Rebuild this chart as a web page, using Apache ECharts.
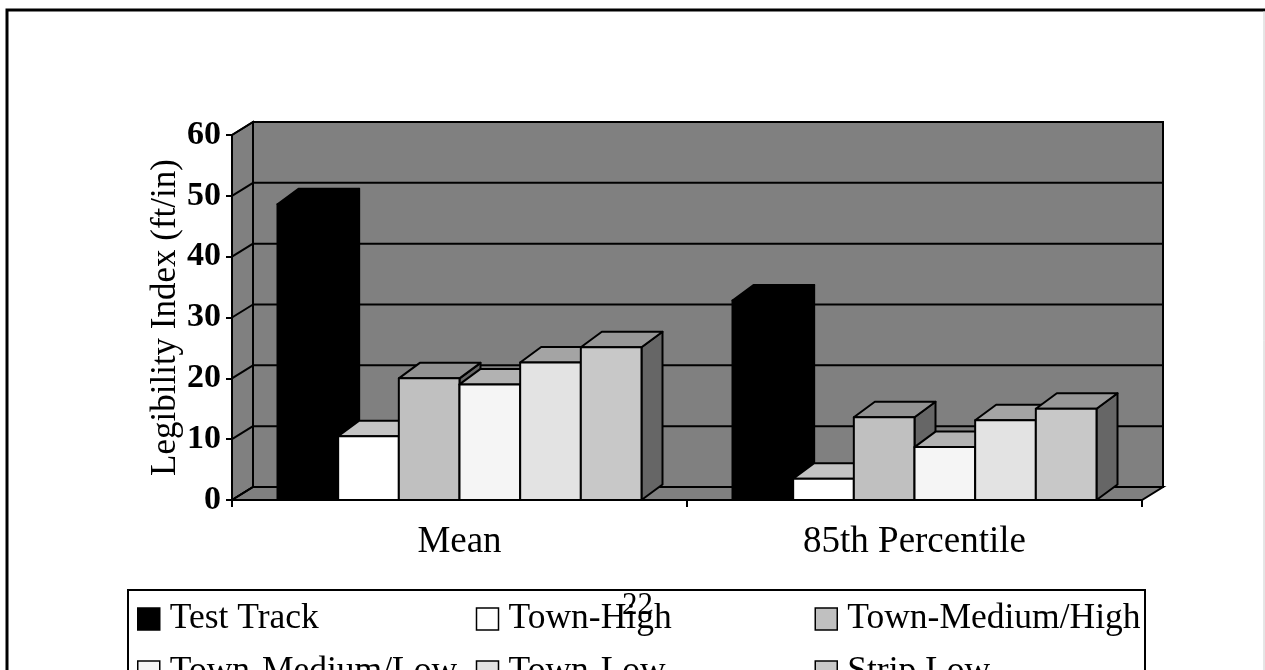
<!DOCTYPE html>
<html>
<head>
<meta charset="utf-8">
<title>Legibility Index</title>
<script src="https://cdn.jsdelivr.net/npm/echarts@6/dist/echarts.min.js"></script>
<style>
  html, body { margin: 0; padding: 0; background: #ffffff; }
  #chart { width: 1265px; height: 670px; }
</style>
</head>
<body>
<div id="chart"></div>
<script>
// Categories and series values (Legibility Index, ft/in)
const categories = ['Mean', '85th Percentile'];
const seriesNames = ['Test Track', 'Town-High', 'Town-Medium/High', 'Town-Medium/Low', 'Town-Low', 'Strip Low'];
const testTrack = [48.6, 32.8];
const townHigh = [10.5, 3.5];
const townMediumHigh = [20.0, 13.6];
const townMediumLow = [19.0, 8.7];
const townLow = [22.6, 13.1];
const stripLow = [25.1, 15.0];
const yTicks = [0, 10, 20, 30, 40, 50, 60];

const seriesValues = [testTrack, townHigh, townMediumHigh, townMediumLow, townLow, stripLow];

// Face shades for each series: front, top, side
const shades = [
  ['#000000', '#000000', '#000000'],
  ['#ffffff', '#c4c4c4', '#8c8c8c'],
  ['#c0c0c0', '#929292', '#666666'],
  ['#f5f5f5', '#b2b2b2', '#777777'],
  ['#e3e3e3', '#a4a4a4', '#6e6e6e'],
  ['#c8c8c8', '#979797', '#666666']
];

const SERIF = '"Liberation Serif", "Times New Roman", serif';
const WALL_DX = 21, WALL_DY = -13;   // depth offset of the back wall
const BAR_DX = 21, BAR_DY = -15.5;   // depth offset of each column
const GROUP_FILL = 0.8;              // share of a category band taken by its columns

// Back wall, side wall, floor and their gridlines
function renderWalls(params, api) {
  const cs = params.coordSys;
  const t = api.value(0);
  const y = api.coord([0, t])[1];
  const xl = cs.x, xr = cs.x + cs.width;
  const children = [];
  const line = { stroke: '#000', lineWidth: 2 };
  if (params.dataIndex === 0) {
    const yTop = cs.y, yBot = cs.y + cs.height;
    children.push({
      type: 'polygon',
      shape: { points: [[xl + WALL_DX, yTop + WALL_DY], [xr + WALL_DX, yTop + WALL_DY], [xr + WALL_DX, yBot + WALL_DY], [xl + WALL_DX, yBot + WALL_DY]] },
      style: { fill: '#808080', stroke: '#000', lineWidth: 2 }
    });
    children.push({
      type: 'polygon',
      shape: { points: [[xl, yTop], [xl + WALL_DX, yTop + WALL_DY], [xl + WALL_DX, yBot + WALL_DY], [xl, yBot]] },
      style: { fill: '#808080', stroke: '#000', lineWidth: 2 }
    });
    children.push({
      type: 'polygon',
      shape: { points: [[xl, yBot], [xr, yBot], [xr + WALL_DX, yBot + WALL_DY], [xl + WALL_DX, yBot + WALL_DY]] },
      style: { fill: '#808080', stroke: '#000', lineWidth: 2 }
    });
  }
  children.push({ type: 'line', shape: { x1: xl, y1: y, x2: xl + WALL_DX, y2: y + WALL_DY }, style: line });
  children.push({ type: 'line', shape: { x1: xl + WALL_DX, y1: y + WALL_DY, x2: xr + WALL_DX, y2: y + WALL_DY }, style: line });
  return { type: 'group', children: children };
}

// One column drawn as a box: side, top, then front face
function makeBarRenderer(k) {
  return function (params, api) {
    const c = api.value(0);
    const v = api.value(1);
    const base = api.coord([c, 0]);
    const top = api.coord([c, v]);
    const band = api.size([1, 0])[0];
    const w = band * GROUP_FILL / seriesNames.length;
    const x0 = base[0] - band * GROUP_FILL / 2 + k * w;
    const x1 = x0 + w;
    const ty = top[1], by = base[1];
    const [front, topC, side] = shades[k];
    const edge = { stroke: '#000', lineWidth: 2, lineJoin: 'round' };
    return {
      type: 'group',
      children: [
        {
          type: 'polygon',
          shape: { points: [[x1, ty], [x1 + BAR_DX, ty + BAR_DY], [x1 + BAR_DX, by + BAR_DY], [x1, by]] },
          style: Object.assign({ fill: side }, edge)
        },
        {
          type: 'polygon',
          shape: { points: [[x0, ty], [x0 + BAR_DX, ty + BAR_DY], [x1 + BAR_DX, ty + BAR_DY], [x1, ty]] },
          style: Object.assign({ fill: topC }, edge)
        },
        {
          type: 'rect',
          shape: { x: x0, y: ty, width: w, height: by - ty },
          style: Object.assign({ fill: front }, edge)
        }
      ]
    };
  };
}

const series = [{
  type: 'custom',
  name: 'walls',
  renderItem: renderWalls,
  data: yTicks.map(t => [t]),
  encode: { y: 0 },
  silent: true,
  z: 1
}];

seriesNames.forEach((name, k) => {
  series.push({
    type: 'custom',
    name: name,
    renderItem: makeBarRenderer(k),
    data: categories.map((cat, i) => [i, seriesValues[k][i]]),
    encode: { x: 0, y: 1 },
    itemStyle: { color: shades[k][0], borderColor: '#000', borderWidth: 1.5 },
    z: 2
  });
});

const chart = echarts.init(document.getElementById('chart'), null, { renderer: 'canvas' });
chart.setOption({
  animation: false,
  backgroundColor: '#ffffff',
  grid: { left: 232, top: 135, right: 123, bottom: 170 },
  xAxis: {
    type: 'category',
    data: categories,
    boundaryGap: true,
    axisLine: { show: true, lineStyle: { color: '#000', width: 2 } },
    axisTick: { show: true, length: 7, lineStyle: { color: '#000', width: 2 } },
    axisLabel: { color: '#000', fontFamily: SERIF, fontSize: 37, margin: 24 },
    splitLine: { show: false },
    z: 5
  },
  yAxis: {
    type: 'value',
    min: 0,
    max: 60,
    interval: 10,
    name: 'Legibility Index (ft/in)',
    nameLocation: 'middle',
    nameGap: 49,
    nameMoveOverlap: false,
    nameTextStyle: { color: '#000', fontFamily: SERIF, fontSize: 35 },
    axisLine: { show: true, lineStyle: { color: '#000', width: 2 } },
    axisTick: { show: true, length: 6, lineStyle: { color: '#000', width: 2 } },
    axisLabel: { color: '#000', fontFamily: SERIF, fontSize: 34, fontWeight: 'bold', margin: 11 },
    splitLine: { show: false },
    z: 5
  },
  legend: {
    data: seriesNames,
    left: 132,
    top: 596,
    width: 1020,
    orient: 'horizontal',
    icon: 'rect',
    itemWidth: 22,
    itemHeight: 22,
    itemGap: 17,
    selectedMode: false,
    itemStyle: { borderColor: '#000', borderWidth: 1.5 },
    textStyle: { color: '#000', fontFamily: SERIF, fontSize: 35.5, width: 289, lineHeight: 32, padding: [0, 0, 0, 5], overflow: 'none' }
  },
  graphic: [
    {
      type: 'rect',
      shape: { x: 7, y: 10, width: 1270, height: 700 },
      style: { fill: 'none', stroke: '#000', lineWidth: 3 },
      silent: true
    },
    {
      type: 'line',
      shape: { x1: 1264, y1: 11, x2: 1264, y2: 670 },
      style: { stroke: '#cccccc', lineWidth: 1 },
      silent: true
    },
    {
      type: 'rect',
      shape: { x: 128, y: 590, width: 1017, height: 120 },
      style: { fill: 'none', stroke: '#000', lineWidth: 2 },
      silent: true,
      z: -1
    },
    {
      type: 'text',
      left: 622,
      top: 590,
      style: { text: '22', fill: '#000', font: '31px ' + SERIF },
      silent: true,
      z: 100
    }
  ],
  series: series
});
</script>
</body>
</html>
